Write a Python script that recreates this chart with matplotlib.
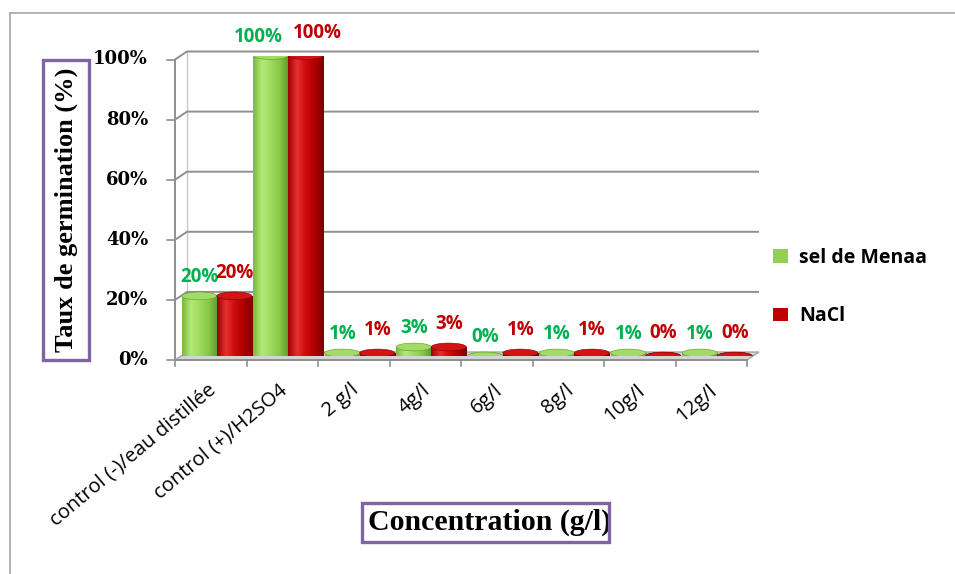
import matplotlib
matplotlib.use("Agg")
import matplotlib.pyplot as plt
import matplotlib.transforms as mtransforms
from matplotlib.colors import LinearSegmentedColormap
from matplotlib.patches import Ellipse, Rectangle, Polygon, Patch
import numpy as np

categories = ["control (-)/eau distillée", "control (+)/H2SO4", "2 g/l", "4g/l",
              "6g/l", "8g/l", "10g/l", "12g/l"]
sel_menaa = [20, 100, 1, 3, 0, 1, 1, 1]
nacl = [20, 100, 1, 3, 1, 1, 0, 0]
yticks = [0, 20, 40, 60, 80, 100]
series_names = ["sel de Menaa", "NaCl"]

W, H = 955, 574
fig = plt.figure(figsize=(W / 100, H / 100), dpi=100)
fig.patch.set_facecolor("white")


def fx(px):
    return px / W


def fy(py):
    return 1 - py / H


# the bars live on a plane halfway between the front axis and the back wall
ax = fig.add_axes([fx(181), fy(356), fx(753) - fx(181), fy(55.5) - fy(356)])
ax.axis("off")
n = len(categories)
x0, x1 = -0.5, n - 0.5
ax.set_xlim(x0, x1)
ax.set_ylim(0, 100)
ax.set_autoscale_on(False)

front = mtransforms.offset_copy(ax.transData, fig=fig, x=-6, y=-4, units="dots")
back = mtransforms.offset_copy(ax.transData, fig=fig, x=6, y=4, units="dots")
ident = mtransforms.IdentityTransform()
grid_col = "#8f8f8f"
sans = "Open Sans"

# floor
floor = [front.transform((x0, 0)), front.transform((x1, 0)),
         back.transform((x1, 0)), back.transform((x0, 0))]
ax.add_patch(Polygon(floor, closed=True, facecolor="#d4d4d4", edgecolor="#a6a6a6",
                     lw=1, transform=ident, zorder=1, clip_on=False))

# back wall gridlines + y ticks
for y in yticks:
    p0 = front.transform((x0, y))
    p1 = back.transform((x0, y))
    p2 = back.transform((x1, y))
    if y > 0:
        ax.plot([p0[0], p1[0], p2[0]], [p0[1], p1[1], p2[1]], color=grid_col, lw=1.4,
                transform=ident, zorder=1.5, clip_on=False, solid_capstyle="butt")
    ax.plot([p0[0] - 8, p0[0]], [p0[1], p0[1]], color=grid_col, lw=1.2,
            transform=ident, zorder=1.5, clip_on=False)
    fig.text((p0[0] - 27) / W, p0[1] / H, "{}%".format(y), ha="right", va="center",
             fontsize=13, fontweight="bold", family="DejaVu Serif", color="black")

b0, b1 = back.transform((x0, 0)), back.transform((x0, 100))
ax.plot([b0[0], b1[0]], [b0[1], b1[1]], color="#c8c8c8", lw=1, transform=ident,
        zorder=1.2, clip_on=False)
f0, f1 = front.transform((x0, 0)), front.transform((x0, 100))
ax.plot([f0[0], f1[0]], [f0[1], f1[1]], color=grid_col, lw=1.4, transform=ident,
        zorder=1.5, clip_on=False)
f2 = front.transform((x1, 0))
ax.plot([f0[0], f2[0]], [f0[1], f2[1]], color=grid_col, lw=1.4, transform=ident,
        zorder=1.5, clip_on=False)
for i in range(n + 1):
    p = front.transform((i - 0.5, 0))
    ax.plot([p[0], p[0]], [p[1], p[1] - 6], color=grid_col, lw=1.2, transform=ident,
            zorder=1.5, clip_on=False)

# cylinder shading profiles (left -> right)
green_shade = ["#78b83a", "#b4ea78", "#9ddb5c", "#86c746", "#5f9a2a"]
red_shade = ["#9e0000", "#e63030", "#cc0a0a", "#b00000", "#7a0000"]
green_top, red_top = "#a3dc64", "#d21414"
green_lbl, red_lbl = "#00b050", "#c00000"

bw = 0.49
cap_h = 2.6
grad = np.linspace(0, 1, 128).reshape(1, -1)


def cylinder(xc, v, shade, top_col, z):
    cmap = LinearSegmentedColormap.from_list("shade", shade)
    base = Ellipse((xc, 0), bw, cap_h, facecolor=shade[2], edgecolor="none", zorder=z)
    ax.add_patch(base)
    im = ax.imshow(grad, extent=[xc - bw / 2, xc + bw / 2, -cap_h / 2, cap_h / 2],
                   aspect="auto", cmap=cmap, zorder=z + 0.01, interpolation="bilinear")
    im.set_clip_path(base)
    if v > 0:
        body = ax.bar(xc, v, bw, color=shade[2], zorder=z + 0.02)[0]
        im = ax.imshow(grad, extent=[xc - bw / 2, xc + bw / 2, 0, v], aspect="auto",
                       cmap=cmap, zorder=z + 0.03, interpolation="bilinear")
        im.set_clip_path(body)
    ax.add_patch(Ellipse((xc, v), bw, cap_h, facecolor=top_col, edgecolor=shade[-1],
                         lw=0.4, zorder=z + 0.04))


def value_label(xc, v, color, dy, side):
    txt = "{}%".format(v)
    # wide labels get pushed apart so neighbours don't collide
    dx = side * 12 if len(txt) > 3 else 0
    ax.annotate(txt, (xc, v), xytext=(dx, dy), textcoords="offset pixels",
                ha="center", va="center", fontsize=13.5, fontweight="bold",
                family=sans, color=color, zorder=10)


for i in range(n):
    cylinder(i - 0.245, sel_menaa[i], green_shade, green_top, 2 + i * 0.2)
    cylinder(i + 0.245, nacl[i], red_shade, red_top, 2.1 + i * 0.2)
    value_label(i - 0.245, sel_menaa[i], green_lbl, 19, -1)
    value_label(i + 0.245, nacl[i], red_lbl, 23, 1)
    # category label, rotated
    ax.annotate(categories[i], (i, 0), xycoords=front, xytext=(3, -28),
                textcoords="offset pixels", ha="right", va="center", rotation=40,
                rotation_mode="anchor", fontsize=14.5, family=sans, color="black")

# legend
handles = [Patch(facecolor="#92d050", edgecolor="none"),
           Patch(facecolor="#c00000", edgecolor="none")]
fig.legend(handles, series_names, loc="center left", bbox_to_anchor=(fx(763), fy(287)),
           frameon=False, borderpad=0, labelspacing=2.0, handlelength=0.8,
           handleheight=0.7, handletextpad=0.55,
           prop={"family": sans, "weight": "bold", "size": 14})

# axis title boxes
fig.patches.append(Rectangle((fx(43), fy(360)), fx(89) - fx(43), fy(60) - fy(360),
                             transform=fig.transFigure, facecolor="white",
                             edgecolor="#8064a2", lw=2.4, zorder=3))
fig.text(fx(66), fy(210), "Taux de germination (%)", rotation=90, ha="center",
         va="center", fontsize=19, fontweight="bold", family="Liberation Serif",
         zorder=4)

fig.text(fx(368), fy(522), "Concentration (g/l)", ha="left", va="center",
         fontsize=21.5, fontweight="bold", family="Liberation Serif", zorder=4)
fig.patches.append(Rectangle((fx(362), fy(542)), fx(609) - fx(362), fy(503) - fy(542),
                             transform=fig.transFigure, facecolor="none",
                             edgecolor="#8064a2", lw=2.4, zorder=5))

# outer chart frame (top and left edges)
fig.add_artist(plt.Line2D([fx(10), 1], [fy(13), fy(13)], color="#a6a6a6", lw=1.2,
                          transform=fig.transFigure))
fig.add_artist(plt.Line2D([fx(10), fx(10)], [fy(13), 0], color="#a6a6a6", lw=1.2,
                          transform=fig.transFigure))

fig.savefig("out.png", dpi=100)
